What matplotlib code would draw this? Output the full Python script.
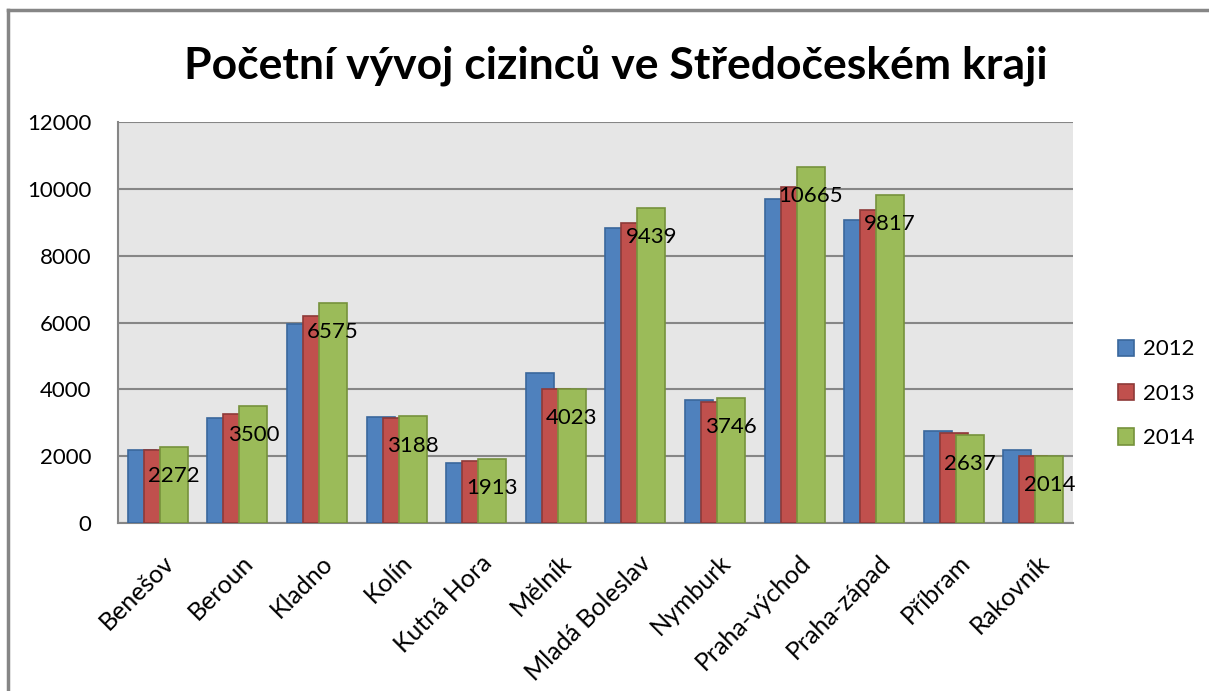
import numpy as np
import matplotlib.pyplot as plt
import matplotlib.transforms as mtransforms
from matplotlib.lines import Line2D

plt.rcParams['font.family'] = ['Lato', 'DejaVu Sans']

okresy = ['Benešov', 'Beroun', 'Kladno', 'Kolín', 'Kutná Hora', 'Mělník',
          'Mladá Boleslav', 'Nymburk', 'Praha-východ', 'Praha-západ',
          'Příbram', 'Rakovník']
roky = ['2012', '2013', '2014']
v2012 = [2190, 3145, 5970, 3175, 1810, 4490, 8835, 3690, 9710, 9055, 2745, 2180]
v2013 = [2195, 3255, 6210, 3145, 1860, 4000, 8965, 3610, 10060, 9365, 2685, 2005]
v2014 = [2272, 3500, 6575, 3188, 1913, 4023, 9439, 3746, 10665, 9817, 2637, 2014]

barvy = ['#4F81BD', '#C0504D', '#9BBB59']
okraje = ['#3A679C', '#8E3A38', '#76923C']

fig = plt.figure(figsize=(12.09, 6.91), dpi=100)
ax = fig.add_axes([0.0976, 0.2431, 0.79, 0.5803])
ax.set_facecolor('#E6E6E6')

x = np.arange(len(okresy))
step = 0.201
width = 0.352
for i, vals in enumerate([v2012, v2013, v2014]):
    ax.bar(x + (i - 1) * step, vals, width, color=barvy[i], edgecolor=okraje[i],
           linewidth=1.2, zorder=3 + i, label=roky[i])

# popisky jen pro 2014
for xi, v in zip(x, v2014):
    ax.annotate(str(v), (xi + step, v), xytext=(0, -21), textcoords='offset points',
                ha='center', va='center', fontsize=16, color='black', zorder=10)

ax.set_xlim(-0.5, len(okresy) - 0.5)
ax.set_ylim(0, 12000)
ax.set_yticks(range(0, 12001, 2000))
ax.yaxis.grid(True, color='#868686', linewidth=1.5, zorder=1)
ax.set_axisbelow(True)
ax.tick_params(axis='both', length=0)
ax.tick_params(axis='y', pad=19, labelsize=16)
ax.set_xticks(x)
ax.set_xticklabels(okresy, rotation=45, ha='right', va='top', rotation_mode='anchor',
                   fontsize=18)
ax.tick_params(axis='x', pad=20)
posun = mtransforms.ScaledTranslation(4 / 100, 0, fig.dpi_scale_trans)
for lab in ax.get_xticklabels():
    lab.set_transform(lab.get_transform() + posun)
for s in ['top', 'right']:
    ax.spines[s].set_visible(False)
for s in ['left', 'bottom']:
    ax.spines[s].set_color('#868686')
    ax.spines[s].set_linewidth(1.5)

handles = [plt.Rectangle((0, 0), 1, 1, facecolor=barvy[i], edgecolor=okraje[i], linewidth=1.2)
           for i in range(3)]
fig.legend(handles, roky, loc='center left', bbox_to_anchor=(0.908, 0.43),
           frameon=False, fontsize=16, handlelength=0.75, handleheight=0.75,
           handletextpad=0.4, labelspacing=1.1)

fig.text(0.509, 0.905, 'Početní vývoj cizinců ve Středočeském kraji',
         ha='center', va='center', fontsize=32, fontweight='bold')

# ramecek grafu
fig.add_artist(Line2D([8 / 1209, 8 / 1209], [0, 1 - 10 / 691], color='#868686', linewidth=2.5))
fig.add_artist(Line2D([8 / 1209, 1], [1 - 10 / 691, 1 - 10 / 691], color='#868686', linewidth=2.5))

fig.savefig('out.png', dpi=100)
